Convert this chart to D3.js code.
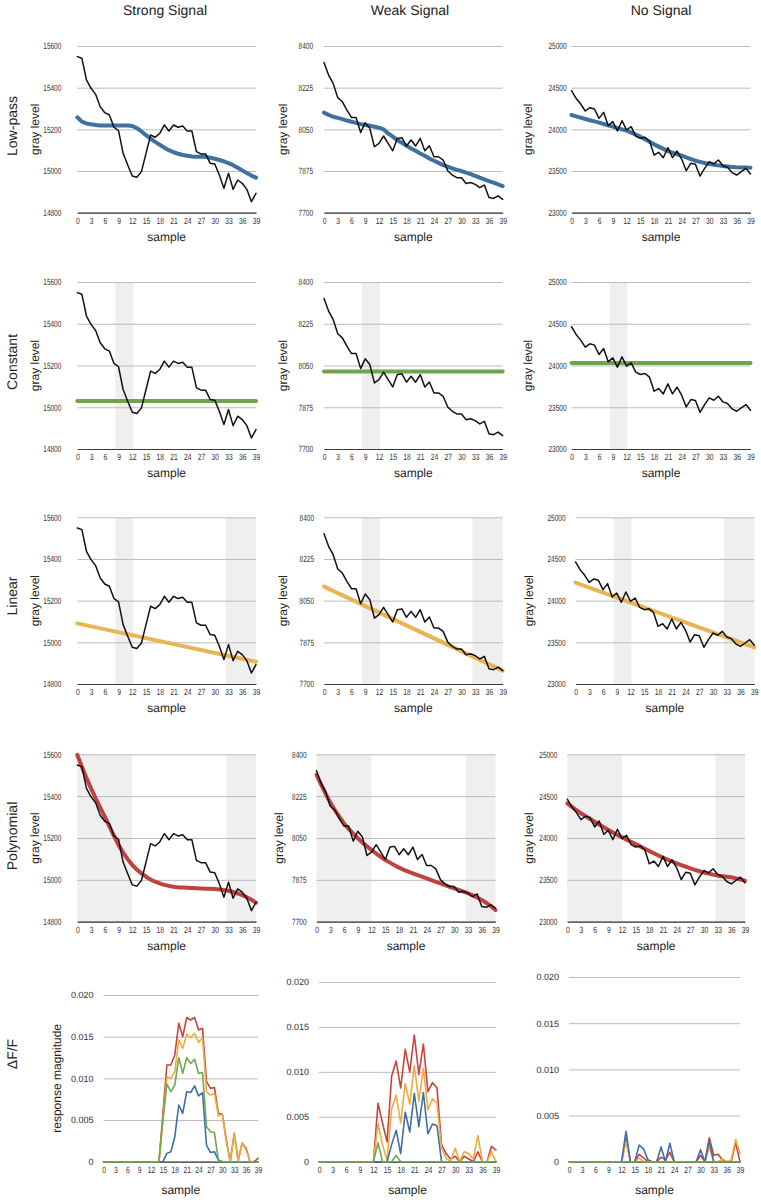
<!DOCTYPE html>
<html>
<head>
<meta charset="utf-8">
<script src="https://cdn.jsdelivr.net/npm/d3@7"></script>
<style>
    body { margin: 0; background: #fff; }
    svg text { font-family: "Liberation Sans", Arial, sans-serif; fill: #222; text-rendering: geometricPrecision; }
    .tick text { font-size: 9px; fill: #333; }
</style>
</head>
<body>
<div id="chart"></div>
<script>
// ---- data ----
const samples = [0,1,2,3,4,5,6,7,8,9,10,11,12,13,14,15,16,17,18,19,20,21,22,23,24,25,26,27,28,29,30,31,32,33,34,35,36,37,38,39];
const xTicks = [0,3,6,9,12,15,18,21,24,27,30,33,36,39];

const columnTitles = ["Strong Signal", "Weak Signal", "No Signal"];
const rowTitles = ["Low-pass", "Constant", "Linear", "Polynomial", "\u0394F/F"];

const strongTicks = [14800, 15000, 15200, 15400, 15600];
const weakTicks = [7700, 7875, 8050, 8225, 8400];
const noneTicks = [23000, 23500, 24000, 24500, 25000];
const dffTicks = [0, 0.005, 0.010, 0.015, 0.020];

const strongTrace = [15549,15541,15437,15397,15368,15309,15280,15269,15210,15194,15085,15029,14976,14970,14997,15085,15173,15162,15181,15221,15192,15221,15210,15216,15192,15192,15093,15082,15082,15037,15034,14981,14917,14989,14912,14957,14941,14912,14853,14893];
const weakTrace = [8331,8278,8243,8183,8166,8131,8100,8100,8037,8078,8054,7977,7991,8022,7991,7960,8012,8015,7980,8005,7980,8012,7960,7981,7935,7935,7921,7876,7858,7847,7847,7823,7827,7819,7805,7816,7764,7760,7771,7756];
const noneTrace = [24464,24372,24304,24220,24260,24244,24132,24204,24044,24092,23980,24104,23992,24032,23920,23892,23904,23860,23692,23724,23660,23780,23660,23740,23644,23504,23592,23580,23440,23532,23612,23584,23632,23564,23544,23480,23452,23492,23532,23464];

const strongLowpass = [15258,15237,15228,15224,15221,15219,15218,15218,15218,15218,15218,15218,15216,15206,15190,15172,15155,15140,15126,15112,15100,15090,15083,15077,15073,15070,15069,15070,15068,15064,15059,15053,15046,15038,15028,15016,15003,14990,14978,14968];
const weakLowpass = [8120,8111,8103,8098,8093,8087,8082,8077,8072,8068,8065,8061,8057,8050,8033,8019,8005,7993,7981,7970,7960,7949,7939,7928,7918,7909,7900,7893,7886,7880,7875,7868,7862,7855,7847,7840,7833,7826,7819,7812];
const noneLowpass = [24172,24156,24140,24124,24109,24095,24080,24064,24048,24032,24016,24000,23984,23960,23936,23912,23882,23851,23820,23793,23766,23740,23720,23702,23684,23663,23643,23624,23610,23597,23584,23576,23568,23560,23554,23549,23544,23542,23541,23540];

// constant fit level, and linear fit at samples 0 and 39
const constantLevels = [15030, 8025, 24030];
const linearEnds = [[15091, 14907], [8109, 7756], [24216, 23440]];

const strongPoly = [15597,15540,15487,15437,15390,15345,15302,15256,15210,15166,15130,15099,15071,15049,15031,15015,15001,14991,14983,14976,14971,14967,14964,14963,14962,14961,14960,14959,14958,14957,14956,14954,14951,14948,14942,14935,14927,14917,14905,14891];
const weakPoly = [8314,8274,8235,8198,8167,8138,8111,8088,8068,8049,8031,8015,8000,7985,7971,7958,7947,7936,7926,7917,7909,7902,7895,7888,7881,7874,7867,7860,7853,7846,7839,7833,7826,7819,7810,7801,7791,7779,7765,7749];
const nonePoly = [24414,24373,24334,24295,24261,24228,24195,24162,24129,24096,24066,24037,24008,23981,23955,23928,23900,23872,23845,23818,23791,23765,23742,23719,23697,23677,23657,23637,23620,23603,23586,23574,23562,23550,23543,23537,23530,23517,23504,23490];

// fit windows (in samples)
const constantWindows = [[8.3, 12.2]];
const linearWindows = [[8.3, 12.2], [32.4, 39]];
const polyWindows = [[0, 12], [32.5, 39]];

const dffStrongRed =    [0,0,0,0,0,0,0,0,0,0,0,0,0,0,0,0.0058,0.0116,0.0116,0.0128,0.0166,0.0150,0.0173,0.0170,0.0173,0.0158,0.0160,0.0096,0.0088,0.0089,0.0058,0.0057,0.0026,0,0.0034,0.0002,0.0022,0.0016,0,0,0.0004];
const dffStrongOrange = [0,0,0,0,0,0,0,0,0,0,0,0,0,0,0,0.0052,0.0102,0.0100,0.0108,0.0146,0.0136,0.0153,0.0149,0.0154,0.0143,0.0149,0.0084,0.0080,0.0082,0.0055,0.0057,0.0024,0,0.0034,0,0.0023,0.0014,0,0,0];
const dffStrongGreen =  [0,0,0,0,0,0,0,0,0,0,0,0,0,0,0,0.0050,0.0093,0.0084,0.0092,0.0125,0.0106,0.0125,0.0118,0.0123,0.0106,0.0107,0.0042,0.0036,0.0035,0.0002,0,0,0,0,0,0,0,0,0,0];
const dffStrongBlue =   [0,0,0,0,0,0,0,0,0,0,0,0,0,0,0,0,0.0010,0.0012,0.0030,0.0068,0.0058,0.0084,0.0083,0.0091,0.0079,0.0083,0.0020,0.0011,0.0012,0.0002,0,0,0,0,0,0,0,0,0,0];

const dffWeakRed =    [0,0,0,0,0,0,0,0,0,0,0,0,0,0.0065,0.0043,0.0022,0.0095,0.0112,0.0082,0.0125,0.0100,0.0141,0.0097,0.0131,0.0078,0.0088,0.0082,0.0019,0.0009,0.0003,0.0006,0,0.0006,0.0003,0,0.0011,0,0,0.0017,0.0013];
const dffWeakOrange = [0,0,0,0,0,0,0,0,0,0,0,0,0,0.0042,0.0019,0.0001,0.0059,0.0074,0.0043,0.0087,0.0064,0.0107,0.0067,0.0104,0.0058,0.0070,0.0065,0.0015,0.0004,0,0.0015,0,0.0011,0.0009,0.0003,0.0029,0,0,0.0011,0];
const dffWeakGreen =  [0,0,0,0,0,0,0,0,0,0,0,0,0,0.0021,0,0,0,0.0007,0,0,0,0,0,0,0,0,0,0,0,0,0,0,0,0,0,0,0,0,0,0];
const dffWeakBlue =   [0,0,0,0,0,0,0,0,0,0,0,0,0,0,0,0,0.0019,0.0035,0.0009,0.0055,0.0033,0.0076,0.0039,0.0077,0.0031,0.0042,0.0040,0,0,0,0,0,0,0,0,0,0,0,0,0];

const dffNoneRed =    [0,0,0,0,0,0,0,0,0,0,0,0,0,0.0025,0,0,0.0008,0.0004,0,0,0,0.0005,0.0002,0.0010,0,0,0,0,0,0,0.0007,0,0.0026,0.0007,0.0008,0.0002,0,0,0.0021,0];
const dffNoneOrange = [0,0,0,0,0,0,0,0,0,0,0,0,0,0.0022,0,0,0.0004,0,0,0,0,0,0,0,0,0,0,0,0,0,0,0,0.0016,0,0,0.0003,0,0.0002,0.0024,0.0009];
const dffNoneGreen =  [0,0,0,0,0,0,0,0,0,0,0,0,0,0,0,0,0,0,0,0,0,0,0,0,0,0,0,0,0,0,0,0,0,0,0,0,0,0,0,0];
const dffNoneBlue =   [0,0,0,0,0,0,0,0,0,0,0,0,0,0.0033,0,0,0.0018,0.0014,0.0002,0,0,0.0016,0,0.0020,0,0,0,0,0,0,0.0013,0,0.0022,0,0,0,0,0,0,0];

// ---- styles ----
const colors = { trace: "#111", lowpass: "#40709f", constant: "#6ea44b", linear: "#eab455", poly: "#c0423f",
                 red: "#c9433f", orange: "#eeab3e", green: "#6ea851", blue: "#3f6fa6" };

const svg = d3.select("#chart").append("svg").attr("width", 761).attr("height", 1200);

// the source panels use a condensed face for tick labels: squeeze them horizontally
function squeeze(sel, k) {
    sel.selectAll(".tick text").each(function () {
        let t = d3.select(this);
        let x = +t.attr("x") || 0;
        t.attr("x", x / k).attr("transform", `scale(${k},1)`).attr("fill", "#333");
    });
}

class Panel {
    constructor(config) {
        this.config = config;
        this.g = svg.append("g");
        this.createScales();
        this.renderShades();
        this.renderAxis();
        this.renderLines();
        this.renderLabels();
    }

    createScales() {
        let c = this.config;
        this.xScale = d3.scaleLinear().domain([0, 39]).range([c.x0, c.x1]);
        this.yScale = d3.scaleLinear().domain([c.ticks[0], c.ticks[c.ticks.length - 1]]).range([c.bot, c.top]);
    }

    renderShades() {
        (this.config.shades || []).forEach(s => {
            this.g.append("rect")
                .attr("x", this.xScale(s[0]))
                .attr("y", this.config.top)
                .attr("width", this.xScale(s[1]) - this.xScale(s[0]))
                .attr("height", this.config.bot - this.config.top)
                .attr("fill", "#efefef");
        });
    }

    renderAxis() {
        let c = this.config;
        let yAxis = d3.axisLeft(this.yScale)
            .tickValues(c.ticks)
            .tickSize(-(c.x1 - c.x0))
            .tickPadding(c.gap)
            .tickFormat(c.fmt || (d => d));
        let ya = this.g.append("g").attr("transform", `translate(${c.x0},0)`).call(yAxis);
        ya.select(".domain").remove();
        ya.selectAll(".tick line").attr("stroke", "#bbbbbb");
        squeeze(ya, c.ySqueeze);

        let xAxis = d3.axisBottom(this.xScale).tickValues(xTicks).tickSize(0).tickSizeOuter(0).tickPadding(5);
        let xa = this.g.append("g").attr("transform", `translate(0,${c.bot})`).call(xAxis);
        xa.select(".domain").attr("stroke", "#3a3a3a").attr("stroke-width", 1.2);
        squeeze(xa, 0.75);
    }

    renderLines() {
        let line = d3.line().x(d => this.xScale(d[0])).y(d => this.yScale(d[1]));
        this.config.series.forEach(s => {
            this.g.append("path")
                .datum(s.xs.map((x, i) => [x, s.ys[i]]))
                .attr("d", line)
                .attr("fill", "none")
                .attr("stroke", s.color)
                .attr("stroke-width", s.width)
                .attr("stroke-linejoin", "round")
                .attr("stroke-linecap", "round");
        });
    }

    renderLabels() {
        let c = this.config;
        this.g.append("text")
            .attr("text-anchor", "middle")
            .attr("x", (c.x0 + c.x1) / 2)
            .attr("y", c.bot + c.sampleDy)
            .style("font-size", "12px")
            .text("sample");
        if (c.yTitle) {
            this.g.append("text")
                .attr("text-anchor", "middle")
                .attr("transform", `translate(${c.yTitleX},${(c.top + c.bot) / 2}) rotate(-90)`)
                .attr("dy", "0.35em")
                .style("font-size", "12px")
                .text(c.yTitle);
        }
    }
}

// ---- layout ----
const rowBands = [{ top: 46, bot: 212.7 }, { top: 282, bot: 449 }, { top: 517.3, bot: 684 }, { top: 754.3, bot: 921.7 }];
const rowCols = [
    [[77.3, 256, 16, 35], [324, 502.7, 11, 283], [571.5, 750.5, 5, 528]],
    [[77.3, 256, 16, 35], [324, 502.7, 11, 283], [571.5, 750.5, 5, 528]],
    [[77.3, 256, 16, 35], [324, 502.7, 10, 283], [575.5, 754.3, 10, 529]],
    [[77.3, 256, 16, 35], [316.5, 495.5, 10, 279], [567.3, 745, 10, 529]]
];

const traces = [strongTrace, weakTrace, noneTrace];
const tickSets = [strongTicks, weakTicks, noneTicks];
const lowpass = [strongLowpass, weakLowpass, noneLowpass];
const polys = [strongPoly, weakPoly, nonePoly];

function fitSeries(row, col) {
    if (row === 0) return { xs: samples, ys: lowpass[col], color: colors.lowpass, width: 4 };
    if (row === 1) return { xs: [0, 39], ys: [constantLevels[col], constantLevels[col]], color: colors.constant, width: 4 };
    if (row === 2) return { xs: [0, 39], ys: linearEnds[col], color: colors.linear, width: 4 };
    return { xs: samples, ys: polys[col], color: colors.poly, width: 4 };
}
const shadeSets = [[], constantWindows, linearWindows, polyWindows];

for (let r = 0; r < 4; r++) {
    for (let c = 0; c < 3; c++) {
        let [x0, x1, gap, yTitleX] = rowCols[r][c];
        new Panel({
            x0: x0, x1: x1, top: rowBands[r].top, bot: rowBands[r].bot,
            gap: gap, ticks: tickSets[c], shades: shadeSets[r], ySqueeze: 0.72,
            yTitle: "gray level", yTitleX: yTitleX, sampleDy: 28,
            series: [fitSeries(r, c), { xs: samples, ys: traces[c], color: colors.trace, width: 1.5 }]
        });
    }
}

const dffSets = [
    [dffStrongRed, dffStrongOrange, dffStrongBlue, dffStrongGreen],
    [dffWeakRed, dffWeakOrange, dffWeakBlue, dffWeakGreen],
    [dffNoneRed, dffNoneOrange, dffNoneBlue, dffNoneGreen]
];
const dffColors = [colors.red, colors.orange, colors.blue, colors.green];
const dffCols = [[103.5, 258, 995], [319, 496, 982], [569, 740, 977]];

dffCols.forEach((d, c) => {
    new Panel({
        x0: d[0], x1: d[1], top: d[2], bot: 1161.7,
        gap: 10, ticks: dffTicks, fmt: v => v === 0 ? "0" : v.toFixed(3), ySqueeze: 1,
        yTitle: c === 0 ? "response magnitude" : null, yTitleX: 57, sampleDy: 32,
        series: dffSets[c].map((ys, i) => ({ xs: samples, ys: ys, color: dffColors[i], width: 1.6 }))
    });
});

// column and row titles
const colCenters = [165, 410, 661];
columnTitles.forEach((t, i) => {
    svg.append("text").attr("x", colCenters[i]).attr("y", 15)
        .attr("text-anchor", "middle").style("font-size", "14px").text(t);
});
const rowCenters = [126, 362, 596, 836, 1054];
rowTitles.forEach((t, i) => {
    svg.append("text")
        .attr("transform", `translate(12,${rowCenters[i]}) rotate(-90)`)
        .attr("text-anchor", "middle").attr("dy", "0.35em")
        .style("font-size", "14px").text(t);
});
</script>
</body>
</html>
